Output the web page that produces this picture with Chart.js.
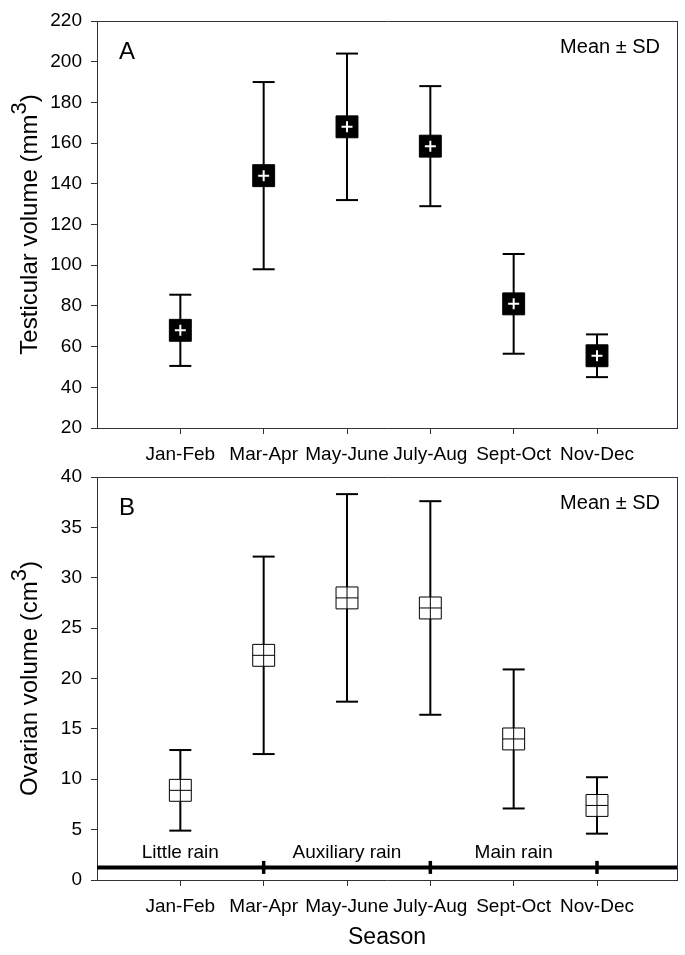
<!DOCTYPE html>
<html>
<head>
<meta charset="utf-8">
<script src="https://cdn.jsdelivr.net/npm/chart.js@4.4.1/dist/chart.umd.min.js"></script>
<style>
  body { margin: 0; background: #fff; }
  #wrap { position: relative; width: 685px; height: 955px; }
  canvas { position: absolute; left: 0; }
  #testes { top: 0; }
  #ovary { top: 455px; }
</style>
</head>
<body>
<div id="wrap">
  <canvas id="testes" width="685" height="470"></canvas>
  <canvas id="ovary" width="685" height="500"></canvas>
</div>
<script>
// two-month periods on the x axis
const seasons = ['Jan-Feb', 'Mar-Apr', 'May-June', 'July-Aug', 'Sept-Oct', 'Nov-Dec'];

// A: testicular volume (mm3), mean and SD
const testisMean = [68, 144, 168, 158.5, 81, 55.5];
const testisSd = [17.5, 46, 36, 29.5, 24.5, 10.5];

// B: ovarian volume (cm3), mean and SD
const ovaryMean = [8.9, 22.3, 28, 27, 14, 7.4];
const ovarySd = [4, 9.8, 10.3, 10.6, 6.9, 2.8];

// rain seasons drawn along the bottom of panel B
const rainNames = ['Little rain', 'Auxiliary rain', 'Main rain'];
const rainCentres = ['Jan-Feb', 'May-June', 'Sept-Oct'];
const rainBreaks = ['Mar-Apr', 'July-Aug', 'Nov-Dec'];

const FONT = '"Liberation Sans", Arial, sans-serif';
const AXIS = '#333';
Chart.defaults.font.family = FONT;
Chart.defaults.color = '#000';

const pos = s => seasons.indexOf(s) + 1;

// panel letter, "Mean ± SD", rotated y title and any extra text
const panelText = {
  id: 'panelText',
  afterDraw(chart, args, opts) {
    const { ctx, chartArea: a } = chart;
    ctx.save();
    ctx.fillStyle = '#000';
    ctx.textBaseline = 'alphabetic';
    ctx.font = '24px ' + FONT;
    ctx.textAlign = 'left';
    ctx.fillText(opts.letter, a.left + 22, a.top + 38);

    ctx.font = '20px ' + FONT;
    ctx.textAlign = 'right';
    ctx.fillText('Mean ± SD', a.right - 17, a.top + 32);

    // y title with superscript
    const [main, sup, tail] = opts.yTitle;
    ctx.translate(28.5, (a.top + a.bottom) / 2);
    ctx.rotate(-Math.PI / 2);
    ctx.font = '24px ' + FONT;
    const w1 = ctx.measureText(main).width;
    const w3 = ctx.measureText(tail).width;
    ctx.font = '22px ' + FONT;
    const w2 = ctx.measureText(sup).width;
    let sx = -(w1 + w2 + w3) / 2;
    ctx.textAlign = 'left';
    ctx.font = '24px ' + FONT;
    ctx.fillText(main, sx, 8.6);
    sx += w1;
    ctx.font = '22px ' + FONT;
    ctx.fillText(sup, sx, -2.5);
    sx += w2;
    ctx.font = '24px ' + FONT;
    ctx.fillText(tail, sx, 8.6);
    ctx.restore();

    if (opts.rain) {
      const x = chart.scales.x, y = chart.scales.y;
      const py = y.getPixelForValue(opts.rain.level);
      ctx.save();
      ctx.font = '19px ' + FONT;
      ctx.textAlign = 'center';
      ctx.textBaseline = 'middle';
      rainNames.forEach((name, i) => {
        ctx.fillText(name, x.getPixelForValue(pos(rainCentres[i])), py - 15);
      });
      ctx.font = '23px ' + FONT;
      ctx.fillText('Season', (a.left + a.right) / 2, a.bottom + 58);
      ctx.restore();
    }
  }
};

function makePanel(id, mean, sd, cfg) {
  const meanPts = mean.map((m, i) => ({ x: i + 1, y: m }));
  const capPts = mean.flatMap((m, i) => [{ x: i + 1, y: m - sd[i] }, { x: i + 1, y: m + sd[i] }]);
  const whisker = mean.flatMap((m, i) => [
    { x: i + 1, y: m - sd[i] }, { x: i + 1, y: m + sd[i] }, { x: i + 1, y: null }
  ]);

  const datasets = [
    { // cross inside the marker (drawn on top)
      data: meanPts, pointStyle: 'cross', pointRadius: cfg.filled ? 5.5 : 11,
      pointBorderColor: cfg.filled ? '#fff' : '#000', pointBorderWidth: cfg.filled ? 2 : 1
    },
    { // mean square
      data: meanPts, pointStyle: 'rect', pointRadius: 15.5,
      pointBackgroundColor: cfg.filled ? '#000' : '#fff',
      pointBorderColor: '#000', pointBorderWidth: 1
    },
    { // SD caps
      data: capPts, pointStyle: 'line', pointRadius: 11,
      pointBorderColor: '#000', pointBorderWidth: 2
    },
    { // SD whiskers
      data: whisker, showLine: true, spanGaps: false, pointRadius: 0,
      borderColor: '#000', borderWidth: 2
    }
  ];

  if (cfg.rain) {
    datasets.push({
      data: rainBreaks.map(s => ({ x: pos(s), y: cfg.rain.level })),
      pointStyle: 'line', rotation: 90, pointRadius: 6.5,
      pointBorderColor: '#000', pointBorderWidth: 3.5
    });
    datasets.push({
      data: [{ x: 0, y: cfg.rain.level }, { x: 6.96, y: cfg.rain.level }],
      showLine: true, pointRadius: 0, borderColor: '#000', borderWidth: 4
    });
  }

  // plain edge axes on top and right close the box
  const edge = (position, min, max) => ({
    position, min, max,
    ticks: { display: false },
    grid: { drawOnChartArea: false, drawTicks: false, color: AXIS },
    border: { color: AXIS, width: 1 },
    afterFit: s => { if (s.isHorizontal()) s.height = 0; else s.width = 0; s.paddingLeft = s.paddingRight = s.paddingTop = s.paddingBottom = 0; }
  });

  new Chart(document.getElementById(id), {
    type: 'scatter',
    data: { datasets },
    options: {
      responsive: false,
      animation: false,
      events: [],
      devicePixelRatio: 1,
      layout: { autoPadding: false, padding: { top: cfg.top, right: 8, left: 0, bottom: 0 } },
      plugins: {
        legend: { display: false },
        tooltip: { enabled: false },
        panelText: { letter: cfg.letter, yTitle: cfg.yTitle, rain: cfg.rain }
      },
      scales: {
        x: {
          type: 'linear', min: 0, max: 6.96,
          afterBuildTicks: s => { s.ticks = seasons.map((c, i) => ({ value: i + 1 })); },
          afterFit: s => { s.height = cfg.xHeight; s.paddingLeft = 0; s.paddingRight = 0; },
          ticks: { callback: v => seasons[v - 1], font: { size: 19 }, color: '#000', padding: 9, maxRotation: 0, autoSkip: false },
          grid: { drawOnChartArea: false, tickLength: 6, color: AXIS, tickWidth: 1 },
          border: { color: AXIS, width: 1 }
        },
        y: {
          min: cfg.yMin, max: cfg.yMax,
          ticks: { stepSize: cfg.step, font: { size: 19 }, color: '#000', padding: 9 },
          afterFit: s => { s.width = 97; s.paddingTop = 0; s.paddingBottom = 0; },
          grid: { drawOnChartArea: false, tickLength: 6, color: AXIS, tickWidth: 1 },
          border: { color: AXIS, width: 1 }
        },
        xTop: Object.assign({ type: 'linear', axis: 'x' }, edge('top', 0, 6.96)),
        yRight: Object.assign({ type: 'linear', axis: 'y' }, edge('right', cfg.yMin, cfg.yMax))
      }
    },
    plugins: [panelText]
  });
}

makePanel('testes', testisMean, testisSd, {
  filled: true, letter: 'A', top: 21, xHeight: 42,
  yMin: 20, yMax: 220, step: 20,
  yTitle: ['Testicular volume (mm', '3', ')']
});

makePanel('ovary', ovaryMean, ovarySd, {
  filled: false, letter: 'B', top: 22, xHeight: 75,
  yMin: 0, yMax: 40, step: 5,
  yTitle: ['Ovarian volume (cm', '3', ')'],
  rain: { level: 1.25 }
});
</script>
</body>
</html>
